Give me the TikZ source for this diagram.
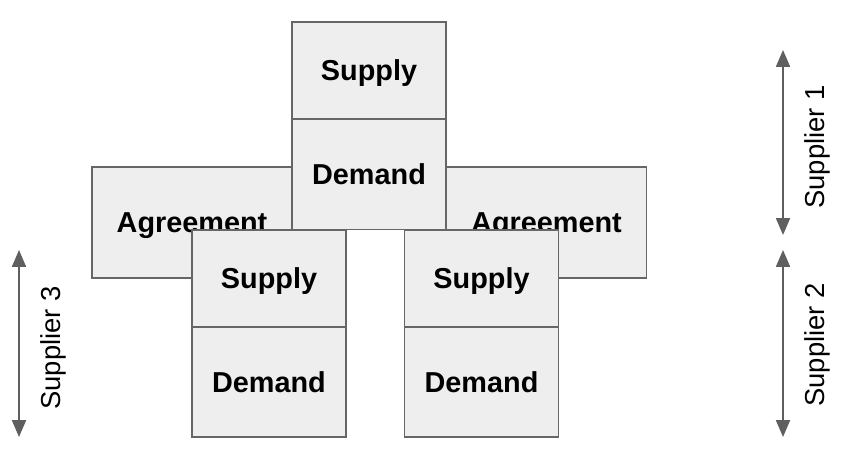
\documentclass[tikz,border=0pt]{standalone}
\usepackage{fontspec}
\setmainfont{Liberation Sans}
\usetikzlibrary{arrows.meta}
\definecolor{boxfill}{HTML}{EEEEEE}
\definecolor{boxline}{HTML}{666666}
\definecolor{arrowgray}{HTML}{5F5F5F}

\begin{document}
\begin{tikzpicture}[x=0.025cm,y=-0.025cm,
	block/.style={draw=boxline,fill=boxfill,line width=1pt,rectangle,inner sep=0pt,
		text depth=0pt,minimum width=3.85cm,font=\fontsize{20.5}{24}\selectfont\bfseries},
	supplybox/.style={block,minimum height=2.425cm},
	demandbox/.style={block,minimum height=2.75cm},
	agreebox/.style={block,minimum width=5cm,minimum height=2.775cm},
	span/.style={draw=arrowgray,line width=1.1pt,
		{Triangle[width=10pt,length=12pt]}-{Triangle[width=10pt,length=12pt]}},
	tag/.style={rotate=90,font=\fontsize{19.5}{23}\selectfont}]
\useasboundingbox (0,0) rectangle (845,453);
% agreements behind
\node[agreebox] (agreeL) at (192,222.5) {Agreement};
\node[agreebox] (agreeR) at (546.5,222.5) {Agreement};
% supplier 1
\node[supplybox] (supply1) at (369,70.5) {Supply};
\node[demandbox] (demand1) at (369,174.5) {Demand};
% supplier 3 and supplier 2
\node[supplybox] (supply3) at (269,278.5) {Supply};
\node[demandbox] (demand3) at (269,382) {Demand};
\node[supplybox] (supply2) at (481.5,278.5) {Supply};
\node[demandbox] (demand2) at (481.5,382) {Demand};
%\draw (0,0) rectangle (845,453);
\coordinate (s1top) at (783,50);
\coordinate (s1bot) at (783,235);
\coordinate (s2top) at (783,250);
\coordinate (s2bot) at (783,437);
\coordinate (s3top) at (19,250);
\coordinate (s3bot) at (19,437);
\draw[span] (s1top) -- (s1bot);
\draw[span] (s2top) -- (s2bot);
\draw[span] (s3top) -- (s3bot);
\node[tag] (tag1) at (817,147) {Supplier 1};
\node[tag] (tag2) at (817,345) {Supplier 2};
\node[tag] (tag3) at (53,348) {Supplier 3};
\end{tikzpicture}
\end{document}
